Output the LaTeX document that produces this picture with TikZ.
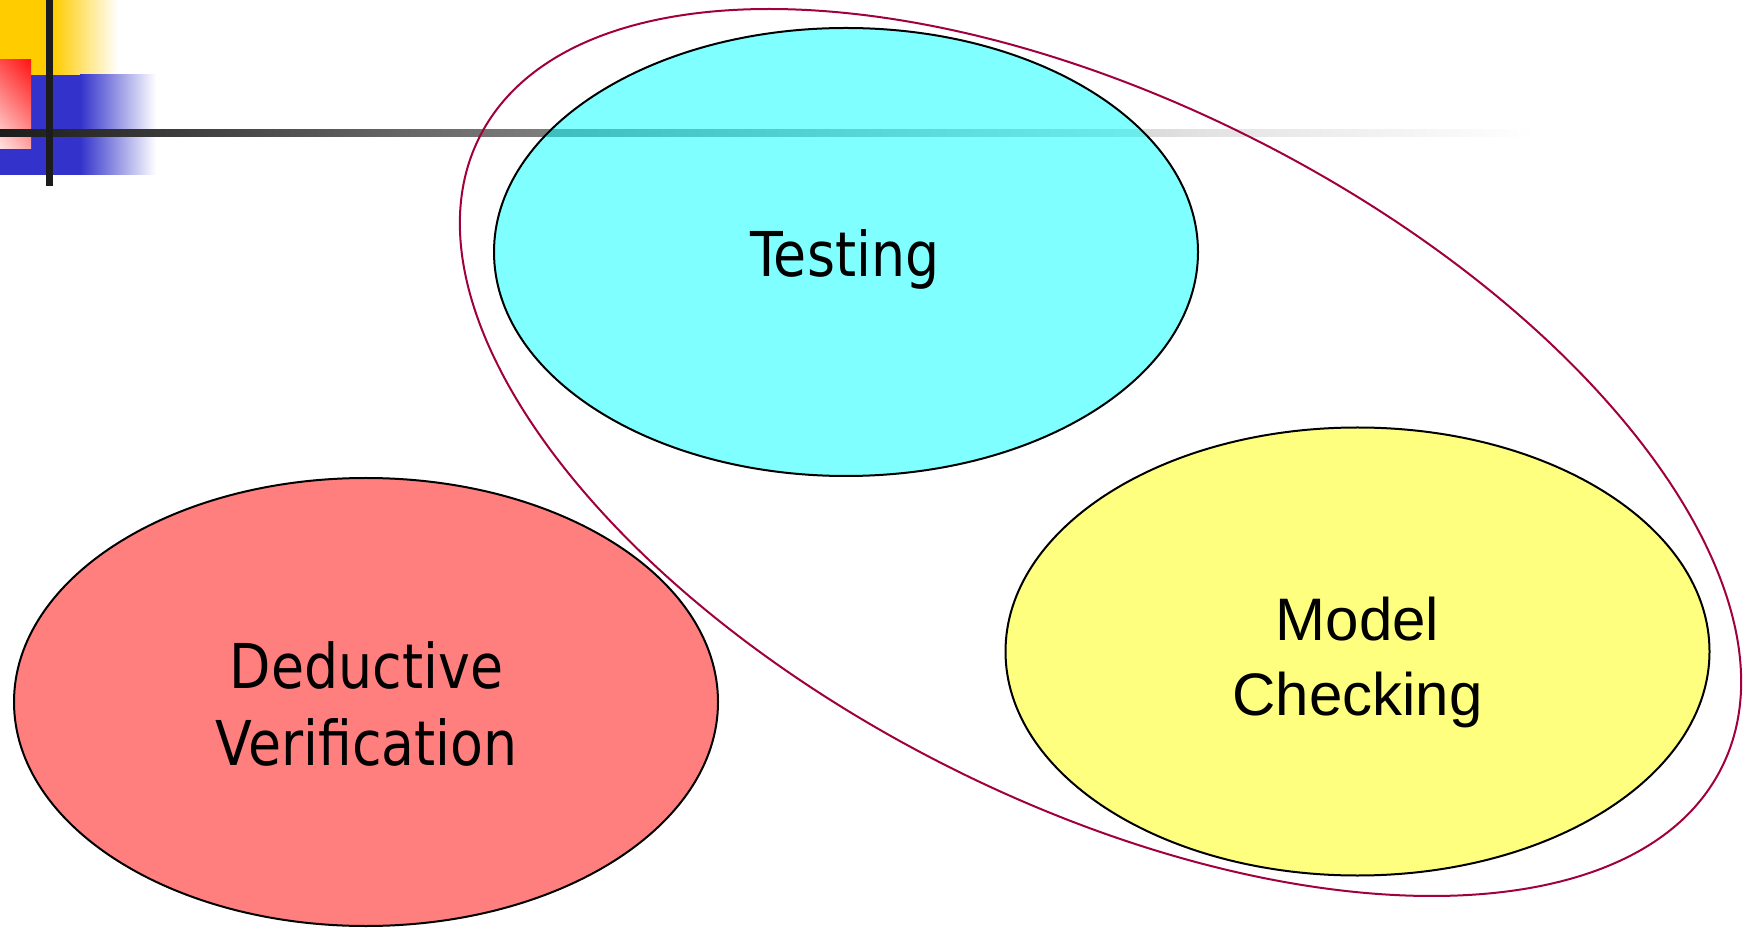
\documentclass[tikz,border=0pt]{standalone}
\usepackage{fontspec}
\usetikzlibrary{shapes.geometric,calc,shadings}
\newfontfamily\humanistfont{DejaVu Sans}[FakeStretch=0.87]
\newfontfamily\grotesquefont{Liberation Sans}

\definecolor{slideyellow}{RGB}{255,204,0}
\definecolor{slideblue}{RGB}{51,51,204}
\definecolor{redtopright}{RGB}{255,20,20}
\definecolor{redtopleft}{RGB}{255,75,75}
\definecolor{redbottomleft}{RGB}{255,228,228}
\definecolor{redbottomright}{RGB}{255,165,165}
\definecolor{bardark}{RGB}{28,28,28}
\definecolor{barmid}{RGB}{102,102,102}
\definecolor{barlight}{RGB}{226,226,226}
\definecolor{groupline}{RGB}{160,0,60}
\definecolor{testfill}{RGB}{0,255,255}
\definecolor{deducefill}{RGB}{255,0,0}
\definecolor{modelfill}{RGB}{255,255,0}

\begin{document}
\begin{tikzpicture}[x=0.5pt,y=-0.5pt,
  blob/.style={ellipse, draw=black, line width=1pt, inner sep=0pt,
    minimum width=352pt, minimum height=224pt, fill opacity=0.5},
  grouping/.style={ellipse, draw=groupline, line width=1pt, inner sep=0pt,
    minimum width=696.5pt, minimum height=349pt, rotate=-27},
  hlabel/.style={font=\humanistfont\fontsize{30.9}{38.5}\selectfont, align=center, inner sep=0pt, anchor=base},
  glabel/.style={font=\grotesquefont\fontsize{30}{37.5}\selectfont, align=center, inner sep=0pt, anchor=base}]

\useasboundingbox (0,0) rectangle (1749,929);

% corner ornament
\fill[slideyellow] (0,0) rectangle (54,75);
\shade[left color=slideyellow, right color=white] (53,0) rectangle (118,75);
\fill[slideblue] (0,75) rectangle (81,175);
\shade[left color=slideblue, right color=white] (80,75) rectangle (156,175);
\shade[upper left=redtopleft, upper right=redtopright,
       lower left=redbottomleft, lower right=redbottomright] (0,60) rectangle (31,149);
\shade[left color=bardark, right color=barmid] (0,130) rectangle (401,137);
\shade[left color=barmid, right color=barlight] (400,130) rectangle (1201,137);
\shade[left color=barlight, right color=white] (1200,130) rectangle (1535,137);
\fill[bardark] (46,0) rectangle (53,186);

% the three techniques
\node[blob, fill=testfill] (testing) at (846,252) {};
\node[blob, fill=deducefill] (deductive) at (366,702) {};
\node[blob, fill=modelfill] (modelcheck) at (1357.5,651.5) {};

% grouping of testing and model checking
\node[grouping] (group) at (1100.5,452.5) {};

% labels (base anchor sits on the last line)
\node[hlabel] (testinglabel) at ($(testing.center)+(-1.3,24.7)$) {Testing};
\node[hlabel] (deductivelabel) at ($(deductive.center)+(0.5,63)$) {Deductive\\Verification};
\node[glabel] (modellabel) at ($(modelcheck.center)+(0,63.5)$) {Model\\Checking};
\end{tikzpicture}
\end{document}
